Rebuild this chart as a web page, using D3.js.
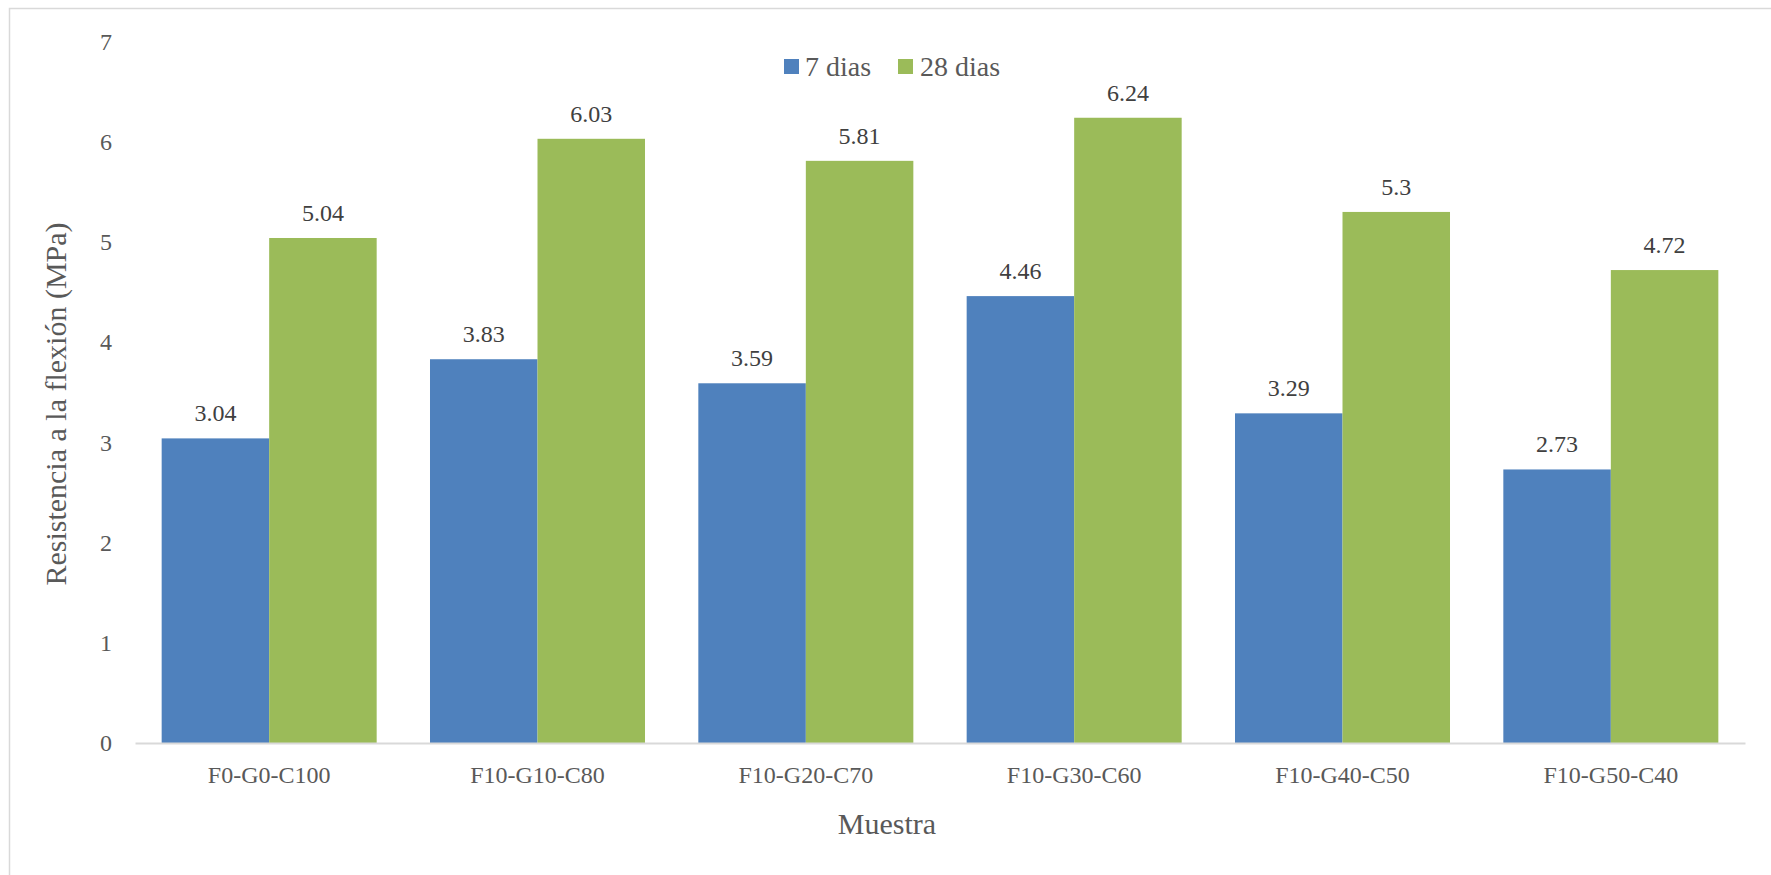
<!DOCTYPE html>
<html>
<head>
<meta charset="utf-8">
<script src="https://cdn.jsdelivr.net/npm/d3@7"></script>
<style>
  html, body { margin: 0; padding: 0; background: #fff; }
  svg { display: block; }
</style>
</head>
<body>
<svg id="chart" width="1771" height="875"></svg>
<script>
// Flexural strength of mortar mixes at 7 and 28 days
const categories = ["F0-G0-C100", "F10-G10-C80", "F10-G20-C70", "F10-G30-C60", "F10-G40-C50", "F10-G50-C40"];
const seriesNames = ["7 dias", "28 dias"];
const values7 = [3.04, 3.83, 3.59, 4.46, 3.29, 2.73];
const values28 = [5.04, 6.03, 5.81, 6.24, 5.3, 4.72];
const yTicks = [0, 1, 2, 3, 4, 5, 6, 7];
const colors = ["#4F81BD", "#9BBB59"];

const seriesValues = [values7, values28];
const rows = categories.map((c, i) => ({
  cat: c,
  vals: seriesNames.map((s, j) => ({ series: s, idx: j, value: seriesValues[j][i] }))
}));

const svg = d3.select("#chart");
const serif = "'Liberation Serif', 'Times New Roman', serif";
const textGrey = "#595959";

// chart-area border (left and top edges)
svg.append("path")
  .attr("d", "M9.5,880 L9.5,8.5 L1780,8.5")
  .attr("fill", "none")
  .attr("stroke", "#d9d9d9")
  .attr("stroke-width", 1.5);

const plot = { left: 135, right: 1745, top: 41.6, bottom: 743 };

const x0 = d3.scaleBand().domain(categories).range([plot.left, plot.right]).paddingInner(0).paddingOuter(0);
const x1 = d3.scaleBand().domain(seriesNames).range([0, x0.bandwidth()]).paddingInner(0).paddingOuter(0.248);
const y = d3.scaleLinear().domain([0, 7]).range([plot.bottom, plot.top]);

// bars
const groups = svg.append("g").selectAll("g")
  .data(rows).join("g")
  .attr("transform", d => `translate(${x0(d.cat)},0)`);

groups.selectAll("rect")
  .data(d => d.vals).join("rect")
  .attr("x", d => x1(d.series))
  .attr("width", x1.bandwidth())
  .attr("y", d => y(d.value))
  .attr("height", d => y(0) - y(d.value))
  .attr("fill", d => colors[d.idx]);

// value labels
groups.selectAll("text.val")
  .data(d => d.vals).join("text")
  .attr("class", "val")
  .attr("x", d => x1(d.series) + x1.bandwidth() / 2)
  .attr("y", d => y(d.value) - 17)
  .attr("text-anchor", "middle")
  .attr("font-family", serif)
  .attr("font-size", 24)
  .attr("fill", "#404040")
  .text(d => String(d.value));

// x axis
const xAxis = svg.append("g")
  .attr("transform", `translate(0,${plot.bottom})`)
  .call(d3.axisBottom(x0).tickSize(0).tickPadding(0));
xAxis.select(".domain").attr("stroke", "#d9d9d9").attr("stroke-width", 2);
xAxis.selectAll("text")
  .attr("y", 40)
  .attr("dy", 0)
  .attr("font-family", serif)
  .attr("font-size", 24)
  .attr("fill", textGrey);

// y axis (labels only)
const yAxis = svg.append("g")
  .attr("transform", `translate(${plot.left},0)`)
  .call(d3.axisLeft(y).tickValues(yTicks).tickFormat(d3.format("d")).tickSize(0).tickPadding(23));
yAxis.select(".domain").remove();
yAxis.selectAll("text")
  .attr("font-family", serif)
  .attr("font-size", 24)
  .attr("fill", textGrey);

// axis titles
svg.append("text")
  .attr("x", 887)
  .attr("y", 834)
  .attr("text-anchor", "middle")
  .attr("font-family", serif)
  .attr("font-size", 30)
  .attr("fill", textGrey)
  .text("Muestra");

svg.append("text")
  .attr("transform", "translate(66,404) rotate(-90)")
  .attr("text-anchor", "middle")
  .attr("font-family", serif)
  .attr("font-size", 30)
  .attr("fill", textGrey)
  .text("Resistencia a la flexión (MPa)");

// legend
const legendItems = [
  { name: seriesNames[0], sx: 784, tx: 805 },
  { name: seriesNames[1], sx: 898, tx: 920 }
];
const legend = svg.append("g");
legend.selectAll("rect")
  .data(legendItems).join("rect")
  .attr("x", d => d.sx)
  .attr("y", 59)
  .attr("width", 15)
  .attr("height", 15)
  .attr("fill", (d, i) => colors[i]);
legend.selectAll("text")
  .data(legendItems).join("text")
  .attr("x", d => d.tx)
  .attr("y", 76)
  .attr("font-family", serif)
  .attr("font-size", 28)
  .attr("fill", textGrey)
  .text(d => d.name);
</script>
</body>
</html>
